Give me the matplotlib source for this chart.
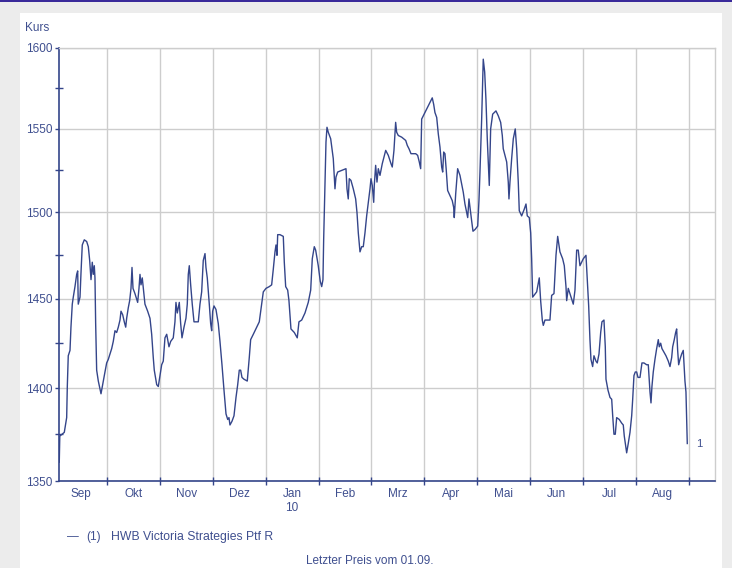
import matplotlib
matplotlib.use("Agg")
import matplotlib.pyplot as plt
from matplotlib.patches import Rectangle
from matplotlib.ticker import FixedLocator, FixedFormatter, NullFormatter

plt.rcParams["font.family"] = ["Liberation Sans", "DejaVu Sans"]

# month labels (centred in each month), x in months since 1 Sep 2009
month_labels = ["Sep", "Okt", "Nov", "Dez", "Jan\n10", "Feb", "Mrz", "Apr", "Mai", "Jun", "Jul", "Aug"]
y_ticks = [1350, 1400, 1450, 1500, 1550, 1600]
y_minor = [1375, 1425, 1475, 1525, 1575]
series_name = "HWB Victoria Strategies Ptf R"

t = [0.098, 0.108, 0.149, 0.193, 0.238, 0.250, 0.268, 0.301, 0.319, 0.344, 0.363, 0.395, 0.427, 0.446,
     0.457, 0.490, 0.509, 0.533, 0.571, 0.616, 0.647, 0.673, 0.698, 0.722, 0.741, 0.760, 0.773, 0.786,
     0.805, 0.836, 0.887, 0.930, 0.962, 0.994, 1.025, 1.057, 1.089, 1.119, 1.151, 1.183, 1.214, 1.246,
     1.265, 1.297, 1.327, 1.354, 1.372, 1.403, 1.429, 1.454, 1.473, 1.492, 1.529, 1.580, 1.605, 1.624,
     1.643, 1.667, 1.694, 1.718, 1.769, 1.813, 1.845, 1.875, 1.894, 1.940, 1.970, 2.002, 2.034, 2.064,
     2.096, 2.129, 2.172, 2.204, 2.253, 2.285, 2.304, 2.329, 2.348, 2.367, 2.393, 2.418, 2.456, 2.493,
     2.518, 2.537, 2.556, 2.582, 2.612, 2.645, 2.726, 2.758, 2.790, 2.820, 2.853, 2.871, 2.896, 2.934,
     2.960, 2.979, 2.998, 3.023, 3.060, 3.104, 3.136, 3.174, 3.212, 3.250, 3.282, 3.306, 3.325, 3.363,
     3.401, 3.439, 3.471, 3.501, 3.527, 3.552, 3.590, 3.652, 3.690, 3.716, 3.766, 3.830, 3.879, 3.924,
     3.955, 4.006, 4.068, 4.113, 4.144, 4.176, 4.195, 4.214, 4.227, 4.270, 4.333, 4.352, 4.378, 4.416,
     4.440, 4.478, 4.541, 4.597, 4.629, 4.681, 4.743, 4.805, 4.851, 4.881, 4.919, 4.945, 4.994, 5.032,
     5.059, 5.083, 5.096, 5.121, 5.140, 5.159, 5.183, 5.229, 5.278, 5.310, 5.329, 5.361, 5.437, 5.518,
     5.537, 5.561, 5.580, 5.612, 5.656, 5.701, 5.726, 5.751, 5.783, 5.815, 5.845, 5.877, 5.909, 5.940,
     5.972, 5.991, 6.015, 6.042, 6.053, 6.079, 6.104, 6.129, 6.161, 6.204, 6.269, 6.318, 6.369, 6.393,
     6.425, 6.457, 6.476, 6.507, 6.571, 6.647, 6.677, 6.709, 6.747, 6.836, 6.873, 6.904, 6.930, 6.949,
     7.011, 7.074, 7.149, 7.176, 7.200, 7.233, 7.263, 7.295, 7.327, 7.346, 7.365, 7.389, 7.414, 7.440,
     7.484, 7.527, 7.554, 7.565, 7.592, 7.629, 7.673, 7.705, 7.735, 7.767, 7.800, 7.819, 7.843, 7.862,
     7.894, 7.919, 7.957, 8.008, 8.032, 8.051, 8.083, 8.113, 8.140, 8.164, 8.189, 8.208, 8.227, 8.253,
     8.291, 8.353, 8.397, 8.442, 8.473, 8.491, 8.524, 8.556, 8.586, 8.599, 8.618, 8.650, 8.681, 8.718,
     8.745, 8.775, 8.794, 8.839, 8.889, 8.921, 8.945, 8.983, 9.010, 9.028, 9.047, 9.123, 9.172, 9.198,
     9.229, 9.248, 9.280, 9.374, 9.406, 9.450, 9.488, 9.520, 9.563, 9.614, 9.645, 9.677, 9.690, 9.720,
     9.752, 9.784, 9.815, 9.847, 9.879, 9.909, 9.941, 10.004, 10.055, 10.079, 10.106, 10.130, 10.149,
     10.181, 10.206, 10.244, 10.268, 10.301, 10.333, 10.357, 10.395, 10.420, 10.433, 10.471, 10.509,
     10.541, 10.560, 10.584, 10.609, 10.635, 10.684, 10.730, 10.760, 10.779, 10.805, 10.824, 10.854,
     10.887, 10.919, 10.938, 10.962, 10.987, 11.013, 11.038, 11.076, 11.113, 11.151, 11.202, 11.233,
     11.265, 11.284, 11.302, 11.327, 11.359, 11.391, 11.422, 11.440, 11.467, 11.491, 11.529, 11.567,
     11.611, 11.643, 11.675, 11.694, 11.724, 11.750, 11.769, 11.788, 11.807, 11.832, 11.864, 11.894,
     11.926, 11.945, 11.958, 11.970]

kurs = [1360, 1374, 1375, 1376, 1384, 1401, 1418, 1421, 1434, 1447, 1451, 1457, 1464, 1466,
        1447, 1451, 1465, 1481, 1484, 1483, 1480, 1472, 1461, 1471, 1464, 1469, 1462, 1436,
        1410, 1404, 1397, 1404, 1409, 1414, 1416, 1419, 1422, 1426, 1432, 1431, 1434, 1438,
        1443, 1441, 1437, 1434, 1439, 1445, 1449, 1456, 1468, 1456, 1453, 1448, 1456, 1464,
        1458, 1462, 1454, 1447, 1443, 1439, 1430, 1417, 1410, 1402, 1401, 1407, 1413, 1415,
        1428, 1430, 1423, 1426, 1428, 1437, 1448, 1442, 1445, 1448, 1436, 1428, 1434, 1439,
        1447, 1464, 1469, 1458, 1447, 1437, 1437, 1447, 1454, 1472, 1476, 1468, 1462, 1447,
        1436, 1432, 1443, 1446, 1444, 1436, 1426, 1413, 1399, 1386, 1383, 1384, 1380, 1382,
        1385, 1395, 1402, 1410, 1410, 1406, 1405, 1404, 1417, 1427, 1430, 1434, 1437, 1447,
        1454, 1456, 1457, 1458, 1467, 1477, 1481, 1475, 1487, 1487, 1486, 1471, 1457, 1455,
        1449, 1433, 1431, 1428, 1437, 1438, 1442, 1448, 1455, 1473, 1480, 1478, 1469, 1460,
        1457, 1461, 1484, 1518, 1542, 1551, 1548, 1544, 1532, 1514, 1521, 1524, 1525, 1526,
        1514, 1508, 1520, 1519, 1514, 1508, 1500, 1488, 1477, 1480, 1480, 1488, 1498, 1506,
        1514, 1520, 1516, 1506, 1516, 1528, 1518, 1526, 1522, 1529, 1537, 1534, 1529, 1527,
        1537, 1554, 1548, 1546, 1545, 1543, 1540, 1538, 1535, 1535, 1534, 1530, 1526, 1556,
        1560, 1564, 1569, 1565, 1560, 1557, 1547, 1539, 1527, 1524, 1536, 1535, 1525, 1513,
        1510, 1507, 1503, 1497, 1511, 1526, 1522, 1517, 1512, 1505, 1500, 1497, 1508, 1503,
        1495, 1489, 1490, 1492, 1507, 1524, 1556, 1593, 1585, 1568, 1544, 1530, 1516, 1550,
        1559, 1561, 1558, 1554, 1546, 1538, 1534, 1530, 1518, 1508, 1518, 1532, 1544, 1550,
        1538, 1518, 1501, 1498, 1502, 1505, 1498, 1497, 1488, 1473, 1451, 1454, 1462, 1449,
        1438, 1435, 1438, 1438, 1452, 1453, 1475, 1486, 1477, 1473, 1469, 1457, 1449, 1456,
        1453, 1450, 1447, 1455, 1478, 1478, 1469, 1473, 1475, 1461, 1446, 1427, 1416,
        1412, 1418, 1415, 1414, 1419, 1431, 1437, 1438, 1423, 1405, 1399, 1395,
        1394, 1385, 1375, 1375, 1384, 1383, 1381, 1380, 1374, 1369, 1365, 1370,
        1376, 1385, 1394, 1407, 1409, 1409, 1406, 1406, 1414, 1414, 1413, 1413,
        1398, 1392, 1401, 1409, 1416, 1422, 1427, 1423, 1425, 1422, 1420, 1418,
        1415, 1412, 1417, 1423, 1427, 1431, 1433, 1421, 1413, 1416, 1419, 1421,
        1404, 1398, 1383, 1370]

navy = "#34458a"
text_col = "#3f4f8f"
grid_col = "#cdcdcd"

W, H = 732, 568
fig = plt.figure(figsize=(W / 100, H / 100), dpi=100)
fig.patch.set_facecolor("#ececec")

# white panel and top stripe, behind the axes
fig.patches.append(Rectangle((20 / W, 0), 702 / W, 1 - 13 / H, transform=fig.transFigure,
                             facecolor="white", edgecolor="none", zorder=-2))
fig.patches.append(Rectangle((0, 1 - 2 / H), 1, 2 / H, transform=fig.transFigure,
                             facecolor="#3a2a9a", edgecolor="none", zorder=-2))

ax = fig.add_axes([59 / W, 1 - 481 / H, 656 / W, 433 / H])
ax.set_zorder(1)
ax.set_facecolor("white")
ax.plot(t, kurs, color=navy, lw=1.0, zorder=3)

ax.set_yscale("log")
ax.set_ylim(1350, 1600)
ax.set_xlim(0.093, 12.494)

ax.yaxis.set_major_locator(FixedLocator(y_ticks))
ax.yaxis.set_major_formatter(FixedFormatter([str(v) for v in y_ticks]))
ax.yaxis.set_minor_locator(FixedLocator(y_minor))
ax.yaxis.set_minor_formatter(NullFormatter())

ax.xaxis.set_major_locator(FixedLocator(list(range(1, 13))))
ax.xaxis.set_major_formatter(NullFormatter())
ax.xaxis.set_minor_locator(FixedLocator([i + 0.5 for i in range(12)]))
ax.xaxis.set_minor_formatter(FixedFormatter(month_labels))

ax.tick_params(axis="y", which="major", direction="out", length=3, width=1, color=navy,
               labelsize=8.5, labelcolor=text_col, pad=2)
ax.tick_params(axis="y", which="minor", direction="inout", length=6, width=1, color=navy)
ax.tick_params(axis="x", which="major", direction="inout", length=6, width=1, color=navy)
ax.tick_params(axis="x", which="minor", length=0, labelsize=8.5, labelcolor=text_col, pad=5)

ax.grid(True, which="major", color=grid_col, lw=1, zorder=1)
ax.set_axisbelow(True)

for side in ["left", "bottom"]:
    ax.spines[side].set_color(navy)
    ax.spines[side].set_linewidth(1.2)
for side in ["top", "right"]:
    ax.spines[side].set_color(grid_col)
    ax.spines[side].set_linewidth(1)

ax.annotate("1", xy=(t[-1], kurs[-1]), xytext=(6, 0), textcoords="offset points",
            fontsize=8, color=text_col, va="center", ha="left")

fig.text(25 / W, 1 - 28 / H, "Kurs", fontsize=8.5, color=text_col, va="center", ha="left")
fig.text(67 / W, 1 - 537 / H, "\u2014", fontsize=8.5, color=text_col, va="center", ha="left")
fig.text(86 / W, 1 - 537 / H, "(1)", fontsize=8.5, color=text_col, va="center", ha="left")
fig.text(111 / W, 1 - 537 / H, series_name, fontsize=8.8, color=text_col, va="center", ha="left")
fig.text(370 / W, 1 - 561 / H, "Letzter Preis vom 01.09.", fontsize=8.5, color=text_col,
         va="center", ha="center")

fig.savefig("out.png", dpi=100)
